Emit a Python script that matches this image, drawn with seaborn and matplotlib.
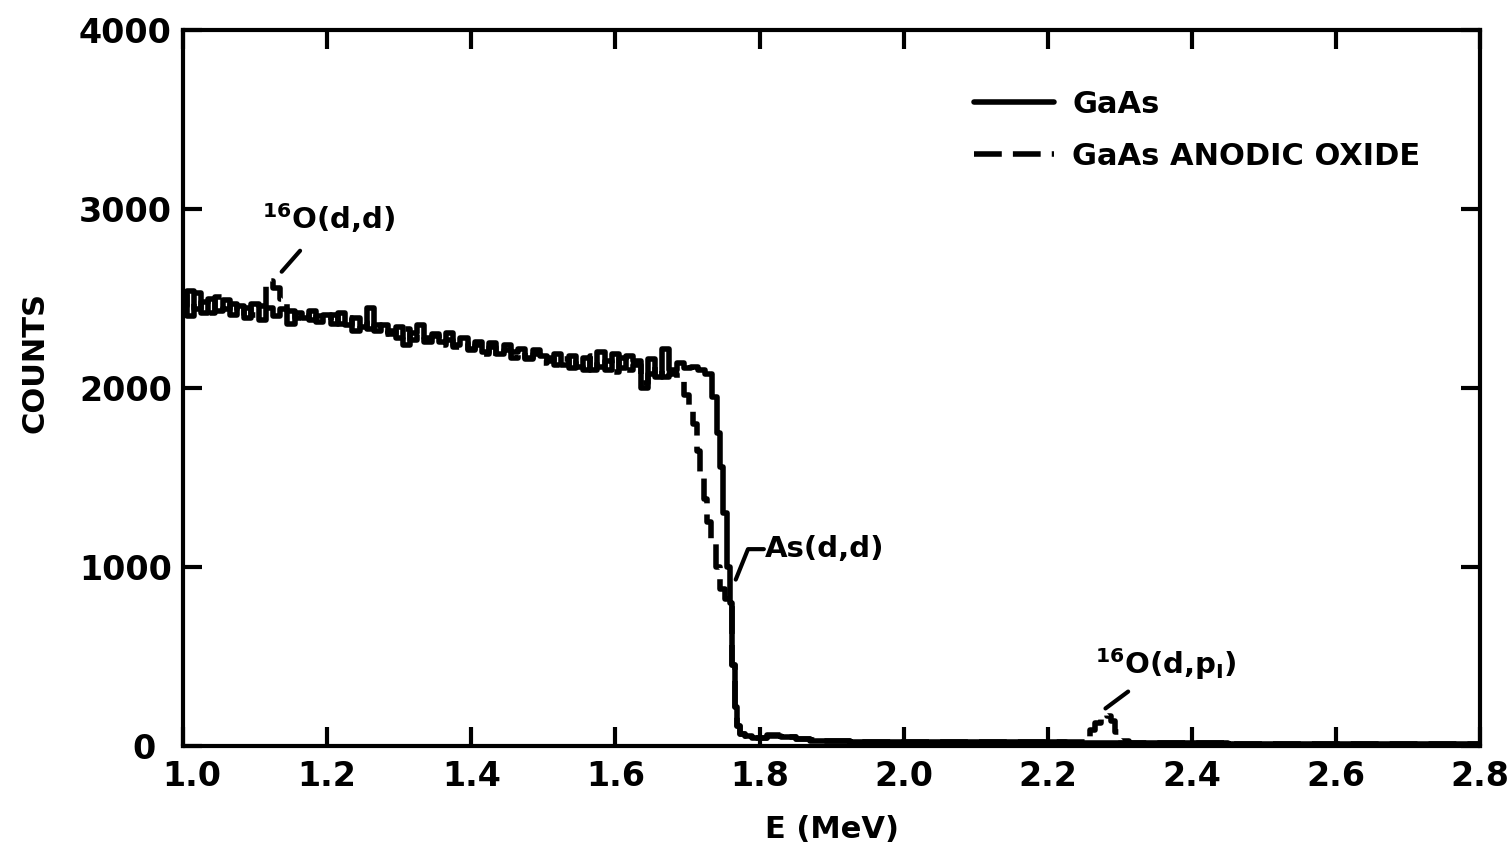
import matplotlib
matplotlib.use("Agg")
import matplotlib.pyplot as plt
import matplotlib.transforms as mtransforms
import seaborn as sns
import pandas as pd

# ---------------- data ----------------
E_bulk = [1.00, 1.01, 1.02, 1.03, 1.04, 1.05, 1.06, 1.07, 1.08, 1.09,
          1.10, 1.11, 1.12, 1.13, 1.14, 1.15, 1.16, 1.17, 1.18, 1.19,
          1.20, 1.21, 1.22, 1.23, 1.24, 1.25, 1.26, 1.27, 1.28, 1.29,
          1.30, 1.31, 1.32, 1.33, 1.34, 1.35, 1.36, 1.37, 1.38, 1.39,
          1.40, 1.41, 1.42, 1.43, 1.44, 1.45, 1.46, 1.47, 1.48, 1.49,
          1.50, 1.51, 1.52, 1.53, 1.54, 1.55, 1.56, 1.57, 1.58, 1.59,
          1.60, 1.61, 1.62, 1.63, 1.64, 1.65, 1.66, 1.67, 1.68, 1.69,
          1.70, 1.71, 1.72]
gaas_bulk = [2520, 2400, 2530, 2420, 2500, 2430, 2490, 2410, 2460, 2390,
             2470, 2380, 2450, 2400, 2440, 2360, 2420, 2390, 2430, 2370,
             2410, 2360, 2420, 2350, 2390, 2340, 2450, 2320, 2350, 2300,
             2340, 2240, 2310, 2350, 2280, 2300, 2260, 2310, 2240, 2280,
             2220, 2260, 2200, 2250, 2190, 2240, 2200, 2220, 2170, 2210,
             2180, 2150, 2190, 2130, 2180, 2120, 2170, 2100, 2200, 2100,
             2190, 2110, 2180, 2150, 2000, 2160, 2060, 2220, 2100, 2140,
             2110, 2120, 2100]
oxide_bulk = [2460, 2540, 2440, 2480, 2420, 2510, 2440, 2470, 2400, 2450,
              2410, 2460, 2600, 2560, 2500, 2430, 2390, 2420, 2380, 2400,
              2380, 2410, 2360, 2390, 2320, 2370, 2330, 2350, 2300, 2320,
              2280, 2330, 2270, 2300, 2260, 2290, 2240, 2270, 2230, 2250,
              2210, 2240, 2190, 2230, 2180, 2210, 2170, 2200, 2160, 2190,
              2140, 2170, 2130, 2160, 2110, 2150, 2100, 2180, 2120, 2150,
              2090, 2170, 2100, 2130, 2030, 2080, 2120, 2060, 2080]

E_gaas_edge = [1.730, 1.738, 1.743, 1.747, 1.752, 1.757, 1.760, 1.764,
               1.767, 1.771, 1.776, 1.785, 1.795]
gaas_edge = [2080, 1950, 1750, 1560, 1300, 1000, 800, 450,
             220, 110, 70, 55, 45]

E_oxide_edge = [1.690, 1.700, 1.705, 1.710, 1.716, 1.720, 1.725, 1.730,
                1.736, 1.742, 1.748, 1.755, 1.760, 1.764, 1.767, 1.771,
                1.776, 1.785, 1.795]
oxide_edge = [2050, 1960, 1900, 1800, 1650, 1500, 1380, 1250,
              1130, 1000, 880, 820, 780, 450, 220, 110,
              70, 55, 45]

E_gaas_tail = [1.80, 1.82, 1.84, 1.86, 1.88, 1.90, 1.95, 2.00, 2.05, 2.10,
               2.15, 2.20, 2.25, 2.30, 2.35, 2.40, 2.50, 2.60, 2.70, 2.80]
gaas_tail = [45, 55, 50, 40, 30, 30, 25, 25, 20, 20,
             20, 20, 15, 15, 15, 15, 10, 10, 10, 10]

E_oxide_tail = [1.80, 1.82, 1.84, 1.86, 1.88, 1.90, 1.95, 2.00, 2.05, 2.10,
                2.15, 2.20, 2.25, 2.255, 2.262, 2.270, 2.278, 2.285, 2.290,
                2.297, 2.305, 2.32, 2.40, 2.50, 2.60, 2.70, 2.80]
oxide_tail = [45, 60, 50, 40, 35, 30, 25, 25, 20, 20,
              20, 20, 20, 50, 90, 130, 175, 170, 140,
              80, 30, 15, 15, 10, 10, 10, 10]

x_ticks = [1.0, 1.2, 1.4, 1.6, 1.8, 2.0, 2.2, 2.4, 2.6, 2.8]
x_ticklabels = ["1.0", "1.2", "1.4", "1.6", "1.8", "2.0", "2.2", "2.4", "2.6", "2.8"]
y_ticks = [0, 1000, 2000, 3000, 4000]
series_labels = ["GaAs", "GaAs ANODIC OXIDE"]

# ---------------- build tables ----------------
gaas_df = pd.DataFrame({"E": E_bulk + E_gaas_edge + E_gaas_tail,
                        "counts": gaas_bulk + gaas_edge + gaas_tail})
oxide_df = pd.DataFrame({"E": E_bulk[:69] + E_oxide_edge + E_oxide_tail,
                         "counts": oxide_bulk + oxide_edge + oxide_tail})

# ---------------- figure ----------------
sns.set_theme(style="ticks")
plt.rcParams["font.family"] = ["DejaVu Sans"]
plt.rcParams["font.weight"] = "bold"
plt.rcParams["text.color"] = "black"
plt.rcParams["axes.labelcolor"] = "black"
plt.rcParams["xtick.color"] = "black"
plt.rcParams["ytick.color"] = "black"

fig = plt.figure(figsize=(15.12, 8.59), dpi=100)
ax = fig.add_axes([0.121, 0.1315, 0.858, 0.8335])

sns.lineplot(data=gaas_df, x="E", y="counts", ax=ax, color="black",
             linewidth=4, drawstyle="steps-mid", label=series_labels[0],
             sort=False, estimator=None)
sns.lineplot(data=oxide_df, x="E", y="counts", ax=ax, color="black",
             linewidth=4, drawstyle="steps-mid", label=series_labels[1],
             sort=False, estimator=None, linestyle=(0, (5, 2)))

ax.set_xlim(1.0, 2.8)
ax.set_ylim(0, 4000)
ax.set_xticks(x_ticks)
ax.set_xticklabels(x_ticklabels)
ax.set_yticks(y_ticks)
ax.tick_params(direction="in", length=14, width=3, labelsize=24,
               top=True, right=True, colors="black")
ax.tick_params(axis="x", pad=10)
ax.tick_params(axis="y", pad=8)
for lab in ax.get_xticklabels() + ax.get_yticklabels():
    lab.set_fontweight("bold")
for sp in ax.spines.values():
    sp.set_linewidth(3)
    sp.set_color("black")

# nudge the corner labels apart ("0" left, "1.0" right) as in the reference
zero_lab = ax.get_yticklabels()[0]
zero_lab.set_transform(zero_lab.get_transform() +
                       mtransforms.ScaledTranslation(-12 / 72, 0, fig.dpi_scale_trans))
one_lab = ax.get_xticklabels()[0]
one_lab.set_transform(one_lab.get_transform() +
                      mtransforms.ScaledTranslation(6 / 72, 0, fig.dpi_scale_trans))

ax.set_xlabel("E (MeV)", fontsize=22, fontweight="bold", labelpad=16)
ax.set_ylabel("COUNTS", fontsize=22, fontweight="bold")
ax.yaxis.set_label_coords(-0.1025, 0.535)

leg = ax.legend(loc="upper right", bbox_to_anchor=(0.975, 0.955), frameon=False,
                fontsize=22, handlelength=2.6, handletextpad=0.6,
                labelspacing=0.75)
for t in leg.get_texts():
    t.set_fontweight("bold")

# annotations
ax.annotate(r"$\mathbf{^{16}}$O(d,d)", xy=(1.137, 2650), xytext=(1.11, 2950),
            fontsize=21, fontweight="bold", va="center", ha="left",
            arrowprops=dict(arrowstyle="-", lw=3, color="black",
                            shrinkA=12, shrinkB=0))
ax.plot([1.767, 1.784, 1.806], [930, 1100, 1100], color="black", lw=3)
ax.text(1.808, 1100, "As(d,d)", fontsize=21, fontweight="bold",
        va="center", ha="left")
ax.annotate(r"$\mathbf{^{16}}$O(d,p$\mathbf{_{I}}$)", xy=(2.28, 210),
            xytext=(2.265, 460), fontsize=21, fontweight="bold",
            va="center", ha="left",
            arrowprops=dict(arrowstyle="-", lw=3, color="black",
                            shrinkA=8, shrinkB=0))

fig.savefig("out.png", dpi=100, facecolor="white")
